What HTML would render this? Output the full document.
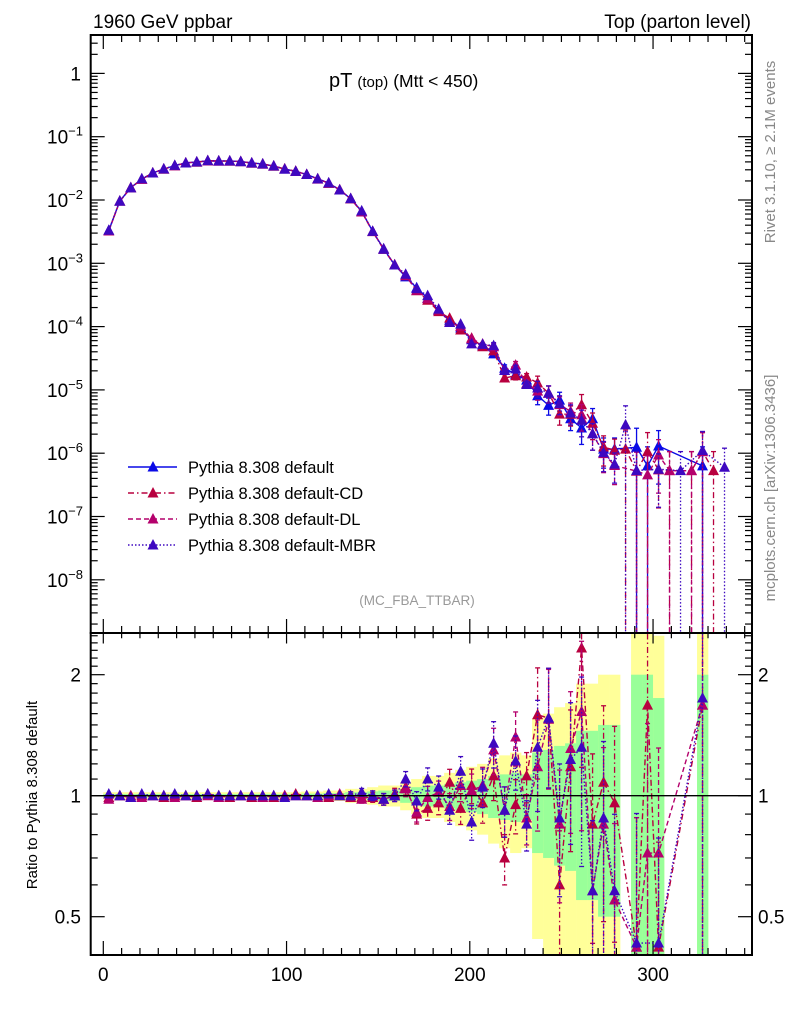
<!DOCTYPE html>
<html><head><meta charset="utf-8">
<style>
html,body{margin:0;padding:0;background:#fff;width:786px;height:1024px;overflow:hidden;}
svg{display:block;font-family:"Liberation Sans",Arial,sans-serif;overflow:hidden;}
</style></head>
<body>
<svg id="chart" width="786" height="1024" viewBox="0 0 786 1024" xmlns="http://www.w3.org/2000/svg">
<defs>
<clipPath id="clipMain"><rect x="90.7" y="35" width="661.3" height="598"/></clipPath>
<clipPath id="clipRatio"><rect x="90.7" y="633" width="661.3" height="322"/></clipPath>
</defs>
<text x="93" y="28" font-size="19">1960 GeV ppbar</text>
<text x="751" y="28" font-size="19" text-anchor="end">Top (parton level)</text>
<text x="329" y="87" font-size="20">pT<tspan font-size="15" dx="5">(top)</tspan><tspan font-size="17.5" dx="5">(Mtt &lt; 450)</tspan></text>
<text transform="translate(775,152) rotate(-90)" font-size="15" fill="#888" text-anchor="middle">Rivet 3.1.10, ≥ 2.1M events</text>
<text transform="translate(775,488) rotate(-90)" font-size="15" fill="#888" text-anchor="middle">mcplots.cern.ch [arXiv:1306.3436]</text>
<text x="417" y="605" font-size="13.5" fill="#999" text-anchor="middle">(MC_FBA_TTBAR)</text>
<text transform="translate(37,795) rotate(-90)" font-size="15" text-anchor="middle">Ratio to Pythia 8.308 default</text>
<g id="bands" clip-path="url(#clipRatio)"></g>
<g id="ticks"></g>
<g id="mainMarks" clip-path="url(#clipMain)"></g>
<g id="ratioMarks" clip-path="url(#clipRatio)"></g>
<g id="labels"></g>
<g id="legend"></g>
<rect x="90.7" y="35" width="661.3" height="598" fill="none" stroke="#000" stroke-width="2"/>
<rect x="90.7" y="633" width="661.3" height="322" fill="none" stroke="#000" stroke-width="2"/>
<line x1="90.7" x2="752" y1="795.7" y2="795.7" stroke="#000" stroke-width="1.3"/>
</svg>
<script>
// ---- data ----
const binCenters = [3,9,15,21,27,33,39,45,51,57,63,69,75,81,87,93,99,105,111,117,123,129,135,141,147,153,159,165,171,177,183,189,195,201,207,213,219,225,231,237,243,249,255,261,267,273,279,285,291,297,303,309,315,321,327,333,339];
const defaultValues = [3.3e-3,9.6e-3,0.0157,0.0214,0.0267,0.0309,0.0349,0.0385,0.0399,0.0414,0.0414,0.0414,0.0404,0.0385,0.0371,0.0344,0.0309,0.0283,0.0253,0.0216,0.0185,0.0144,0.0105,6.6e-3,3.2e-3,1.7e-3,9.4e-4,6.1e-4,4.1e-4,2.8e-4,1.8e-4,1.26e-4,9.5e-5,6.2e-5,5.0e-5,3.7e-5,2.2e-5,1.76e-5,1.43e-5,8.1e-6,5.7e-6,6.9e-6,3.5e-6,2.5e-6,3.5e-6,1.16e-6,1.16e-6,null,1.24e-6,6.3e-7,1.3e-6,null,null,null,6.3e-7,null,null];
const relErr = [0.01,0.01,0.01,0.01,0.01,0.01,0.01,0.01,0.01,0.01,0.01,0.01,0.01,0.01,0.01,0.01,0.01,0.01,0.012,0.012,0.015,0.015,0.02,0.02,0.025,0.03,0.03,0.04,0.05,0.06,0.06,0.07,0.08,0.09,0.10,0.12,0.13,0.14,0.13,0.28,0.30,0.33,0.35,0.45,0.45,0.5,0.5,1,1,1,0.75,1,1,1,1,1,1];
const cdRatio = [0.99,1.0,0.99,1.0,1.0,0.99,1.0,1.0,0.99,1.01,1.0,0.99,1.0,0.99,1.0,0.99,1.0,1.01,1.0,1.0,0.99,1.0,0.99,0.99,0.99,0.98,1.01,1.05,0.90,0.93,0.96,1.08,0.93,1.06,0.96,1.12,0.70,0.95,1.12,1.59,1.56,0.60,1.18,2.33,0.85,1.08,0.96,null,0.42,1.68,0.42,null,null,null,1.68,null,null];
const dlRatio = [0.98,1.0,1.0,0.99,1.0,1.0,0.99,1.0,1.0,1.0,0.99,1.0,1.0,1.0,0.99,1.0,1.0,1.0,1.0,0.99,1.0,1.01,1.0,0.98,1.0,0.98,1.0,1.04,0.91,0.99,1.02,0.94,1.06,1.03,1.06,1.30,0.92,1.40,0.88,1.18,1.55,0.85,1.31,1.62,0.58,0.85,0.55,null,0.42,0.72,0.72,null,null,null,1.68,null,null];
const mbrRatio = [1.01,1.0,0.99,1.01,1.0,1.0,1.01,1.0,1.0,1.01,1.0,1.0,1.0,1.0,1.0,1.0,0.99,1.0,1.0,1.0,1.01,1.0,1.0,1.02,1.0,0.98,1.0,1.10,0.97,1.10,1.05,0.92,1.15,0.86,1.05,1.35,0.92,1.22,0.85,1.32,1.56,0.88,1.23,1.32,0.58,0.88,0.58,null,0.43,null,0.43,null,null,null,1.75,null,null];
const cdExtra = [47,51,53,55];
const cdExtraValues = [1.16e-6,5.3e-7,5.3e-7,5.3e-7];
const dlExtra = [51,53];
const dlExtraValues = [5.3e-7,5.3e-7];
const mbrExtra = [47,52,56];
const mbrExtraValues = [2.8e-6,5.3e-7,6e-7];
const mainTickDecades = [0,-1,-2,-3,-4,-5,-6,-7,-8];
const ratioTickLabels = [0.5,1,2];
const xTickLabels = [0,100,200,300];

// ---- axes ----
const X0 = 103.3, XS = 1.8325;
const xPx = v => X0 + XS * v;
const yMain = v => 200 - 63.3 * (Math.log10(v) + 2);
const yRatio = r => 795.7 - 121 * Math.log2(r);
const NS = "http://www.w3.org/2000/svg";
function mk(tag, attrs, parent) {
  const e = document.createElementNS(NS, tag);
  for (const k in attrs) e.setAttribute(k, attrs[k]);
  parent.appendChild(e);
  return e;
}
const gBands = document.getElementById('bands');
const gTicks = document.getElementById('ticks');
const gMain = document.getElementById('mainMarks');
const gRatio = document.getElementById('ratioMarks');
const gLabels = document.getElementById('labels');
const gLegend = document.getElementById('legend');
const clampR = y => Math.max(620, Math.min(960, y));
const clampM = y => Math.max(25, Math.min(640, y));

// bands
binCenters.forEach((c, i) => {
  if (defaultValues[i] == null) return;
  const e = relErr[i];
  const x1 = xPx(c - 3), x2 = xPx(c + 3);
  const yHi2 = clampR(yRatio(1 + 2 * e)), yLo2 = (1 - 2 * e) > 0.01 ? clampR(yRatio(1 - 2 * e)) : 960;
  const yHi = clampR(yRatio(1 + e)), yLo = (1 - e) > 0.01 ? clampR(yRatio(1 - e)) : 960;
  const r1 = mk('rect', {x: x1, y: yHi2, width: x2 - x1 + 0.3, height: yLo2 - yHi2, fill: '#ffff99'}, gBands);
  
  
  const r2 = mk('rect', {x: x1, y: yHi, width: x2 - x1 + 0.3, height: yLo - yHi, fill: '#99ff99'}, gBands);
  
  
});

// ticks
function tline(x1, y1, x2, y2, w, name) {
  const l = mk('line', {x1, y1, x2, y2, stroke: '#000', 'stroke-width': w}, gTicks);
  
  
}
for (let k = -9; k <= 0; k++) {
  for (let m = 1; m <= 9; m++) {
    const v = m * Math.pow(10, k);
    const y = yMain(v);
    if (y < 35 || y > 633) continue;
    const L = m === 1 ? 14 : 7;
    tline(90.7, y, 90.7 + L, y, 1.2, 'main-y-tick');
    tline(752 - L, y, 752, y, 1.2, 'main-y-tick');
  }
}
for (let v = 0; v <= 350; v += 10) {
  const x = xPx(v);
  const L = v % 100 === 0 ? 14 : 7;
  tline(x, 35, x, 35 + L, 1.2, 'x-tick-top');
  tline(x, 633, x, 633 - L, 1.2, 'x-tick-main-bottom');
  tline(x, 633, x, 633 + L * 0.75, 1.2, 'x-tick-ratio-top');
  tline(x, 955, x, 955 - L, 1.2, 'x-tick-bottom');
}
for (let r = 0.4; r <= 2.55; r += 0.1) {
  const rr = Math.round(r * 10) / 10;
  const y = yRatio(rr);
  if (y < 633 || y > 955) continue;
  const L = (rr === 0.5 || rr === 1 || rr === 2) ? 14 : 7;
  tline(90.7, y, 90.7 + L, y, 1.2, 'ratio-y-tick');
  tline(752 - L, y, 752, y, 1.2, 'ratio-y-tick');
}

// labels
mainTickDecades.forEach(k => {
  const y = yMain(Math.pow(10, k)) + 7;
  if (k === 0) {
    const t = mk('text', {x: 81, y: y, 'font-size': 19, 'text-anchor': 'end'}, gLabels);
    t.textContent = '1';
    
    
  } else {
    const t = mk('text', {x: 83, y: y, 'font-size': 19, 'text-anchor': 'end'}, gLabels);
    
    
    const a = mk('tspan', {}, t); a.textContent = '10';
    const b = mk('tspan', {'font-size': 13, dy: -8}, t); b.textContent = '\u2212' + (-k);
  }
});
ratioTickLabels.forEach(r => {
  const y = yRatio(r) + 7;
  const t = mk('text', {x: 81, y, 'font-size': 19, 'text-anchor': 'end'}, gLabels);
  t.textContent = String(r);
  
  
  const t2 = mk('text', {x: 758, y, 'font-size': 19}, gLabels);
  t2.textContent = String(r);
  
  
});
xTickLabels.forEach(v => {
  const t = mk('text', {x: xPx(v), y: 981, 'font-size': 19, 'text-anchor': 'middle'}, gLabels);
  t.textContent = String(v);
  
  
});

// series
function withExtras(ratio, idx, vals) {
  const out = binCenters.map((c, i) => (defaultValues[i] != null && ratio[i] != null) ? defaultValues[i] * ratio[i] : null);
  idx.forEach((j, k) => { out[j] = vals[k]; });
  return out;
}
const series = [
  {name: 'default', color: '#0a0ae6', dash: '', main: defaultValues, ratio: binCenters.map((c, i) => defaultValues[i] != null ? 1 : null)},
  {name: 'default-cd', color: '#b8003f', dash: '6,3,1.5,3', main: withExtras(cdRatio, cdExtra, cdExtraValues), ratio: cdRatio},
  {name: 'default-dl', color: '#b4006c', dash: '5,3', main: withExtras(dlRatio, dlExtra, dlExtraValues), ratio: dlRatio},
  {name: 'default-mbr', color: '#3e08c0', dash: '1.5,2', main: withExtras(mbrRatio, mbrExtra, mbrExtraValues), ratio: mbrRatio}
];
function tri(g, x, y, color, name) {
  const p = mk('polygon', {points: `${x},${y - 6} ${x - 5.5},${y + 4.5} ${x + 5.5},${y + 4.5}`, fill: color}, g);
  
  
}
function drawSeries(s, g, vals, yf, isRatio, bottom) {
  const clamp = isRatio ? clampR : clampM;
  const pts = [];
  vals.forEach((v, i) => { if (v != null) pts.push([xPx(binCenters[i]), yf(v), i, v]); });
  const path = mk('polyline', {points: pts.map(p => p[0] + ',' + clamp(p[1])).join(' '), fill: 'none', stroke: s.color, 'stroke-width': 1.4, 'stroke-dasharray': s.dash}, g);
  
  
  pts.forEach(p => {
    const i = p[2], v = p[3];
    let e = relErr[i];
    if (defaultValues[i] == null) e = 1;
    if (isRatio && s.name === 'default') return;
    if (isRatio) e = e * 1.1;
    const hi = clamp(yf(v * (1 + e)));
    const lo = (1 - e) > 0.001 ? clamp(yf(v * (1 - e))) : bottom;
    if (Math.abs(lo - hi) > 6) {
      const eb = mk('line', {x1: p[0], x2: p[0], y1: hi, y2: lo, stroke: s.color, 'stroke-width': 1.3, 'stroke-dasharray': s.dash}, g);
      
      
      mk('line', {x1: p[0] - 2.5, x2: p[0] + 2.5, y1: hi, y2: hi, stroke: s.color, 'stroke-width': 1.3}, g);
      mk('line', {x1: p[0] - 2.5, x2: p[0] + 2.5, y1: lo, y2: lo, stroke: s.color, 'stroke-width': 1.3}, g);
    }
  });
  pts.forEach(p => { if (p[1] > 20 && p[1] < 1000) tri(g, p[0], p[1], s.color, 'marker-' + s.name); });
}
series.forEach(s => drawSeries(s, gMain, s.main, yMain, false, 640));
series.forEach(s => { if (s.name !== 'default') drawSeries(s, gRatio, s.ratio, yRatio, true, 960); });

// legend
const legendLabels = ['Pythia 8.308 default', 'Pythia 8.308 default-CD', 'Pythia 8.308 default-DL', 'Pythia 8.308 default-MBR'];
series.forEach((s, k) => {
  const y = 467 + k * 26;
  const g = mk('g', {}, gLegend);
  
  
  mk('line', {x1: 128, x2: 177, y1: y, y2: y, stroke: s.color, 'stroke-width': 1.4, 'stroke-dasharray': s.dash}, g);
  tri(g, 153, y, s.color, 'legend-marker');
  const t = mk('text', {x: 188, y: y + 6, 'font-size': 16.5}, g);
  t.textContent = legendLabels[k];
});
</script>
</body></html>
